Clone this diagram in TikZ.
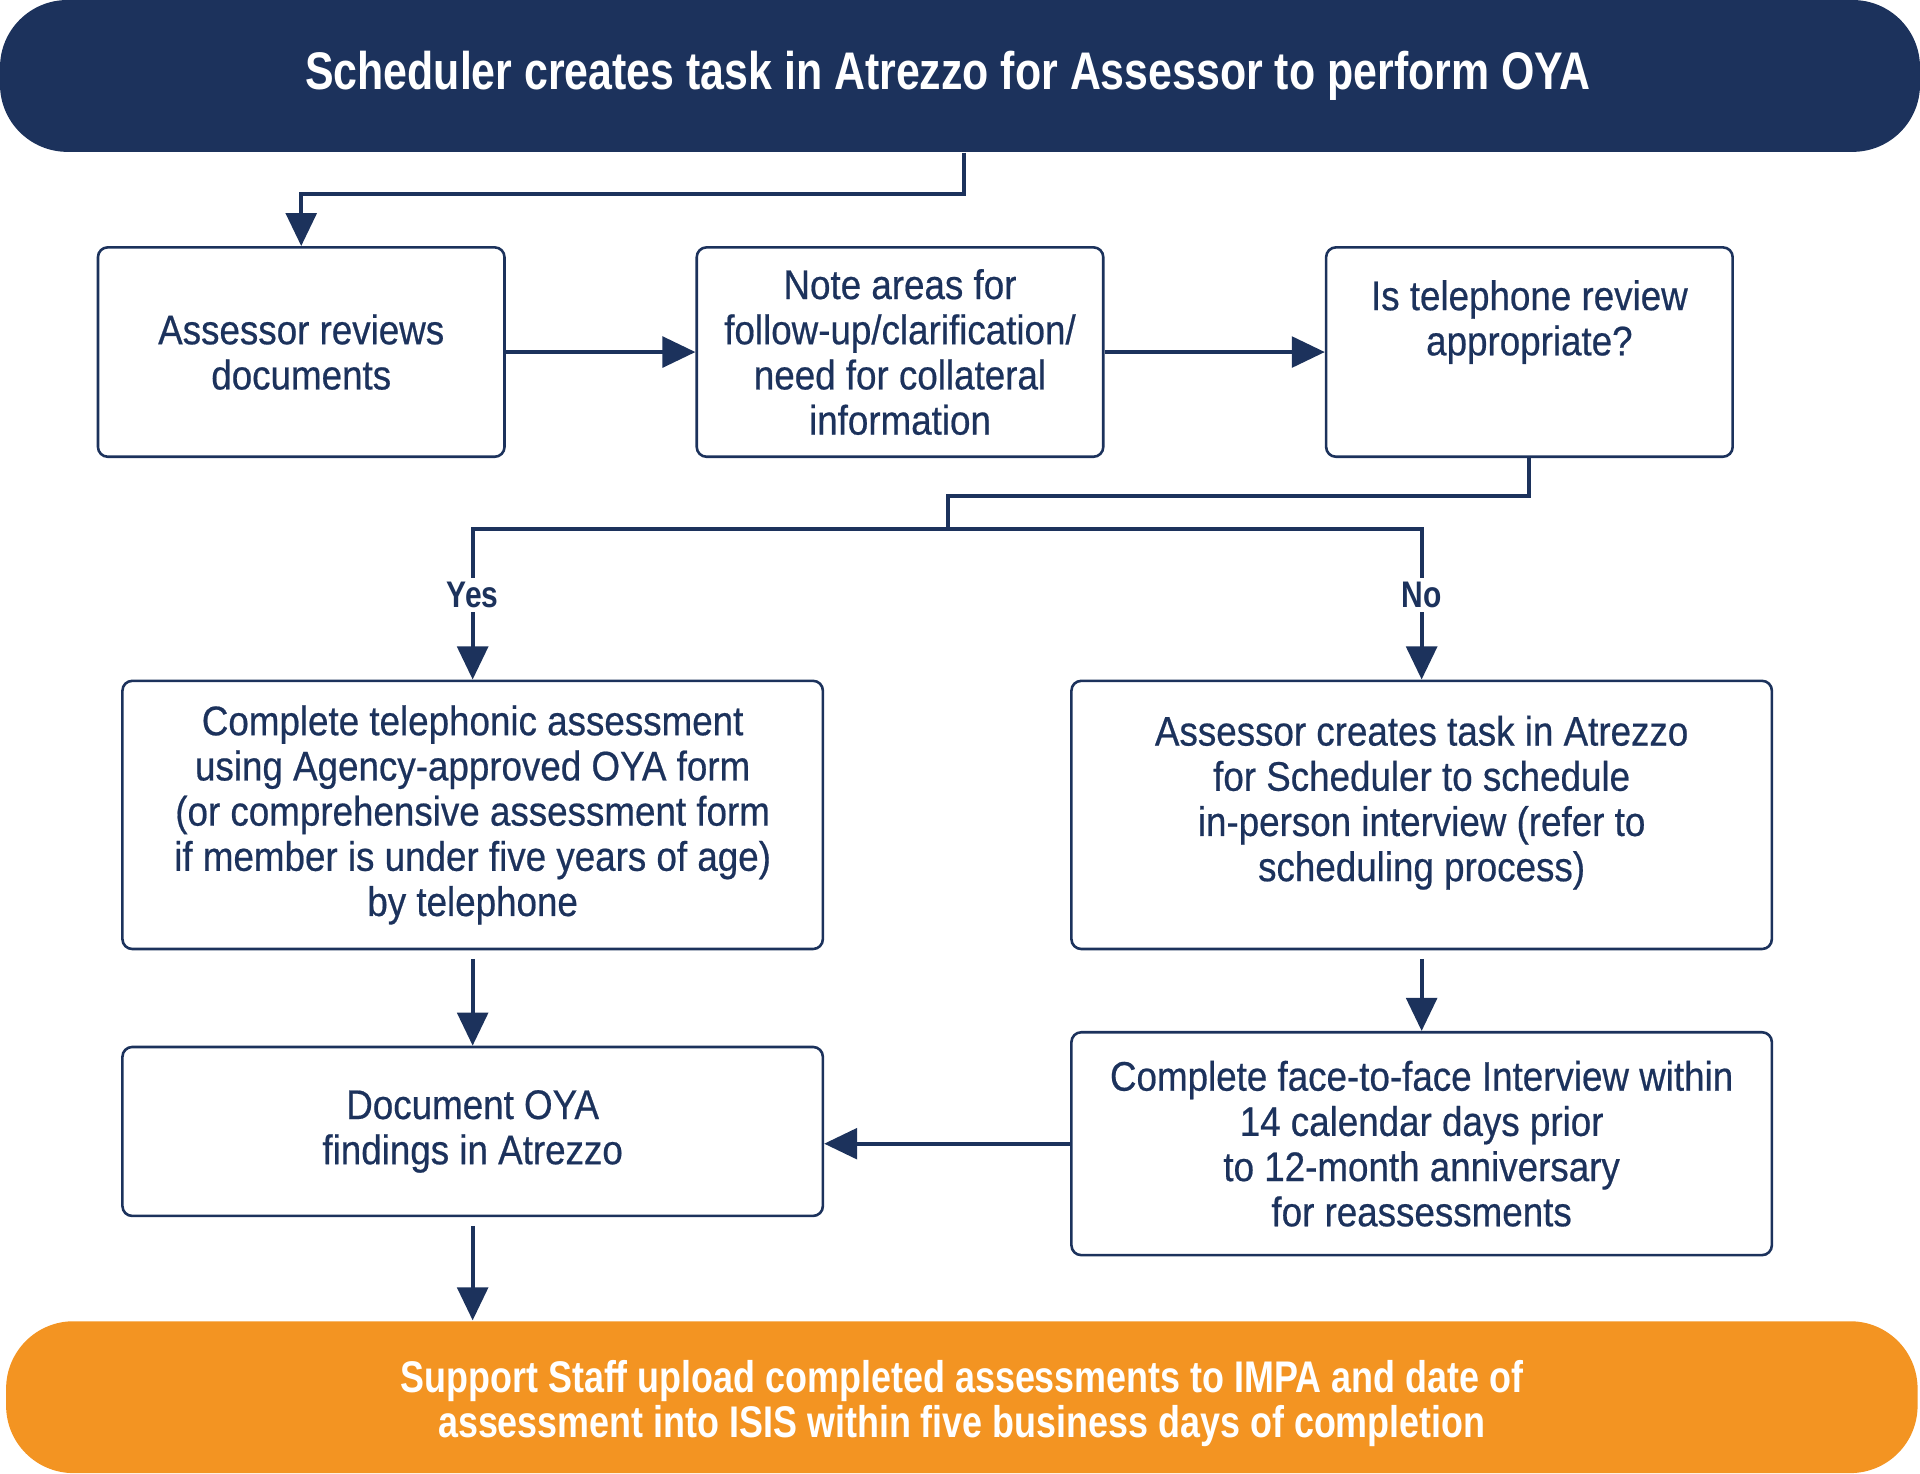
\documentclass[tikz,border=0pt]{standalone}
\usepackage{fontspec}
\setmainfont{Liberation Sans}[FakeStretch=0.89,FakeBold=0.5]
\newfontfamily\headfont{Liberation Sans}[FakeStretch=0.81]
\usetikzlibrary{arrows.meta}
\definecolor{oyaNavy}{RGB}{28,50,92}
\definecolor{oyaOrange}{RGB}{243,148,34}
\begin{document}
\begin{tikzpicture}
[stepDecorate/.style={shape=rectangle,draw=oyaNavy,line width=0.6pt,rounded corners=0.08cm,minimum width=3.32cm,minimum height=1.71cm,inner sep=0pt,text=oyaNavy,align=center,font=\fontsize{9.6}{10.5}\selectfont},%
  wideDecorate/.style={stepDecorate,minimum width=5.72cm},%
  textDecorate/.style={text=oyaNavy,align=center,font=\fontsize{9.6}{10.5}\selectfont},%
  bannerDecorate/.style={shape=rectangle,rounded corners=0.55cm,minimum width=15.68cm,minimum height=1.24cm,inner sep=0pt,text=white,align=center,font=\fontsize{12.3}{10.5}\selectfont\headfont\bfseries},%
  arrowDecorate/.style={-{Triangle[length=0.27cm,width=0.25cm]},line width=0.95pt,draw=oyaNavy},%
  answerDecorate/.style={fill=white,text=oyaNavy,inner sep=1pt,font=\fontsize{8.6}{9}\selectfont\headfont\bfseries}]
\useasboundingbox (0,0) rectangle (15.68,-12.03);
%% banners
\node (scheduler) at (7.84,-0.62) [bannerDecorate,fill=oyaNavy] {};
\node at ([xshift=-0.1cm]scheduler.center) [text=white,font=\fontsize{12.3}{10.5}\selectfont\headfont\bfseries] {Scheduler creates task in Atrezzo for Assessor to perform OYA};
\node (support) at (7.855,-11.41) [bannerDecorate,fill=oyaOrange,minimum width=15.61cm] {};
\node at ([yshift=-0.05cm]support.center) [text=white,align=center,font=\fontsize{10.3}{10.5}\selectfont\headfont\bfseries] {Support Staff upload completed assessments to IMPA and date of\\assessment into ISIS within five business days of completion};
%% steps
\node (review) at (2.46,-2.875) [stepDecorate] {Assessor reviews\\documents};
\node (note) at (7.35,-2.875) [stepDecorate] {Note areas for\\follow-up/clarification/\\need for collateral\\information};
\node (ask) at (12.49,-2.875) [stepDecorate] {};
\node [textDecorate] at ([yshift=0.245cm]ask.center) {Is telephone review\\appropriate?};
\node (phone) at (3.86,-6.655) [wideDecorate,minimum height=2.19cm] {Complete telephonic assessment\\using Agency-approved OYA form\\(or comprehensive assessment form\\if member is under five years of age)\\by telephone};
\node (inperson) at (11.61,-6.655) [wideDecorate,minimum height=2.19cm] {};
\node [textDecorate] at ([yshift=0.1cm]inperson.center) {Assessor creates task in Atrezzo\\for Scheduler to schedule\\in-person interview (refer to\\scheduling process)};
\node (document) at (3.86,-9.24) [wideDecorate,minimum height=1.38cm] {Document OYA\\findings in Atrezzo};
\node (facetoface) at (11.61,-9.34) [wideDecorate,minimum height=1.82cm] {Complete face-to-face Interview within\\14 calendar days prior\\to 12-month anniversary\\for reassessments};
\coordinate (split) at (7.74,-4.32);
%% edges or lines
\draw[arrowDecorate] ([xshift=0.03cm]scheduler.south) -- ++(0,-0.34) -| (review.north);
\path (review.east) edge[arrowDecorate] (note.west);
\path (note.east) edge[arrowDecorate] (ask.west);
\draw[arrowDecorate,-] (ask.south) -- ++(0,-0.31) -| (split);
\draw[arrowDecorate] (split) -| node[answerDecorate,pos=0.72] {Yes} (phone.north);
\draw[arrowDecorate] (split) -| node[answerDecorate,pos=0.72] {No} (inperson.north);
\draw[arrowDecorate,shorten <=2pt] (phone.south) -- (document.north);
\draw[arrowDecorate,shorten <=2pt] (inperson.south) -- (facetoface.north);
\draw[arrowDecorate] (facetoface.west) -- (facetoface.west -| document.east);
\draw[arrowDecorate,shorten <=2pt] (document.south) -- (document.south |- support.north);
\end{tikzpicture}
\end{document}
